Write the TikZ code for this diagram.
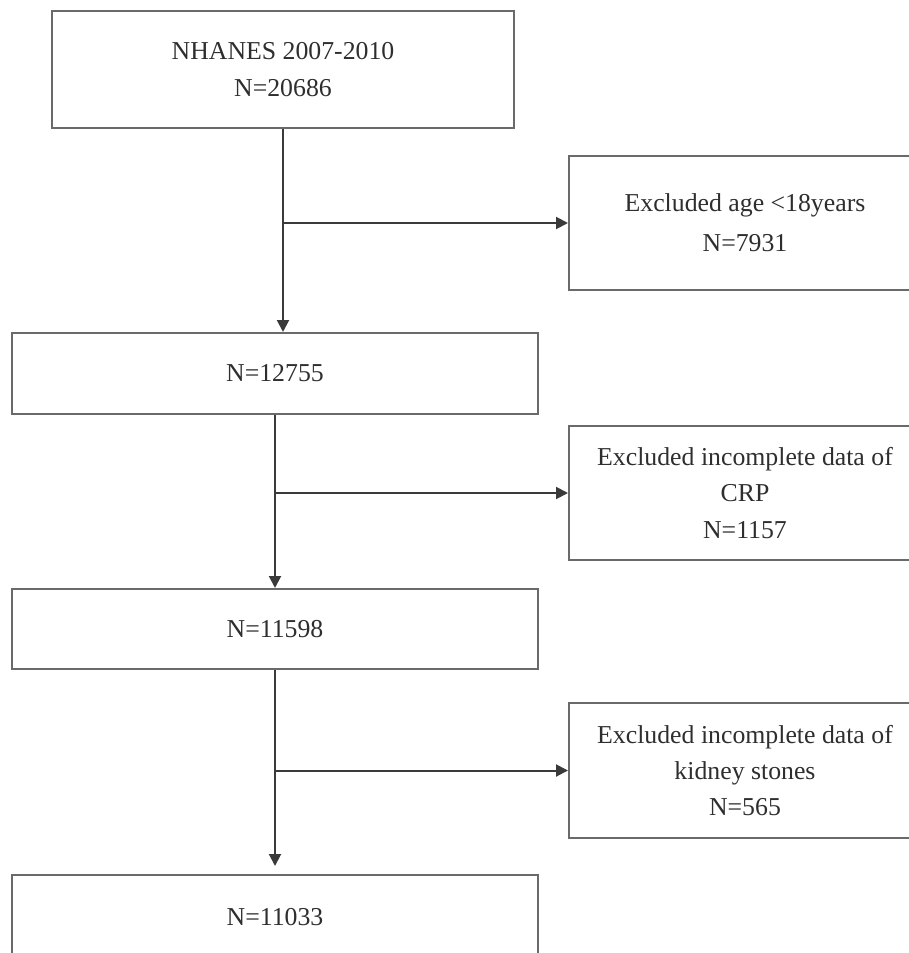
\documentclass[tikz,border=0pt]{standalone}
\usepackage{fontspec}
\setmainfont{Liberation Serif}
\usetikzlibrary{arrows.meta}

\definecolor{boxgray}{HTML}{6A6A6A}
\definecolor{linegray}{HTML}{3A3A3A}
\definecolor{textgray}{HTML}{2E2E2E}

\def\px{0.03cm}
\def\wl{526*\px}
\def\wr{352*\px}

\begin{document}
\begin{tikzpicture}[x=\px, y=-\px,
    box/.style={draw=boxgray, line width=0.06cm, text=textgray, align=center,
        font=\fontsize{22}{31}\selectfont},
    flow/.style={draw=linegray, line width=0.06cm,
        -{Triangle[length=0.36cm, width=0.36cm]}}]
    \path[use as bounding box, clip] (0,0) rectangle (909,953);
    % main column
    \node[box, minimum width=462*\px, minimum height=117*\px] (src) at (283,69.5) {NHANES 2007-2010\\N=20686};
    \node[box, minimum width=\wl, minimum height=81*\px] (adult) at (275,373.5) {N=12755};
    \node[box, minimum width=\wl, minimum height=80*\px] (crp) at (275,629) {N=11598};
    \node[box, minimum width=\wl, minimum height=84*\px] (final) at (275,917) {N=11033};
    % exclusions
    \node[box, minimum width=\wr, minimum height=134*\px] (exage) at (745,223) {Excluded age <18years\\[3pt]N=7931};
    \node[box, minimum width=\wr, minimum height=134*\px] (excrp) at (745,493) {Excluded incomplete data of\\CRP\\N=1157};
    \node[box, minimum width=\wr, minimum height=135*\px] (exstone) at (745,770.5) {Excluded incomplete data of\\kidney stones\\N=565};

    \coordinate (j1) at (src.south |- exage.west);
    \coordinate (j2) at (adult.south |- excrp.west);
    \coordinate (j3) at (crp.south |- exstone.west);
    \coordinate (end) at ([yshift=0.24cm]final.north);

    \draw[flow] (src.south) -- (src.south |- adult.north);
    \draw[flow] (j1) -- (exage.west);
    \draw[flow] (adult.south) -- (crp.north);
    \draw[flow] (j2) -- (excrp.west);
    \draw[flow] (crp.south) -- (end);
    \draw[flow] (j3) -- (exstone.west);
\end{tikzpicture}
\end{document}
